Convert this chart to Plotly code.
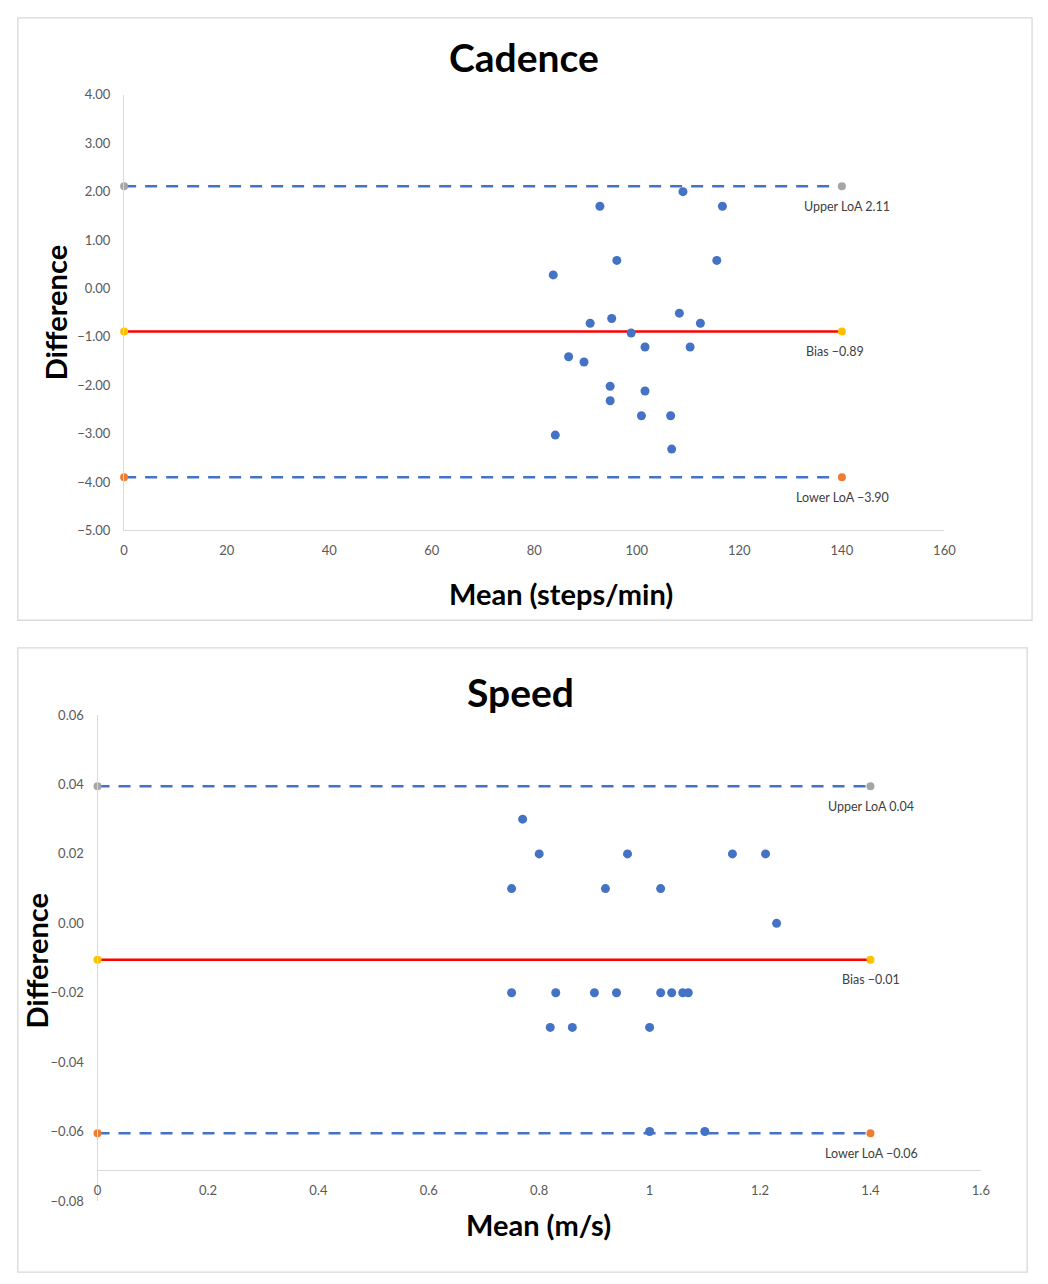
import plotly.graph_objects as go

W, H = 1048, 1284

# ---------------- Cadence data ----------------
cad_mean = [92.8, 109.0, 116.7, 96.1, 115.6, 83.7, 108.3, 90.9, 95.1, 112.4, 98.9,
            101.6, 110.4, 86.7, 89.7, 94.8, 101.6, 94.8, 100.9, 106.6, 84.1, 106.8]
cad_diff = [1.70, 2.00, 1.70, 0.58, 0.58, 0.28, -0.51, -0.72, -0.62, -0.72, -0.92,
            -1.21, -1.21, -1.41, -1.52, -2.02, -2.12, -2.32, -2.63, -2.63, -3.03, -3.32]
cad_bias, cad_upper, cad_lower = -0.89, 2.11, -3.90
cad_line_x = [0, 140]

# ---------------- Speed data ----------------
spd_mean = [0.77, 0.80, 0.96, 1.15, 1.21, 0.75, 0.92, 1.02, 1.23, 0.75, 0.83,
            0.90, 0.94, 1.02, 1.04, 1.06, 1.07, 0.82, 0.86, 1.00, 1.00, 1.10]
spd_diff = [0.03, 0.02, 0.02, 0.02, 0.02, 0.01, 0.01, 0.01, 0.00, -0.02, -0.02,
            -0.02, -0.02, -0.02, -0.02, -0.02, -0.02, -0.03, -0.03, -0.03, -0.06, -0.06]
spd_bias, spd_upper, spd_lower = -0.0105, 0.0395, -0.0605
spd_line_x = [0, 1.4]

cad_yticks = [4, 3, 2, 1, 0, -1, -2, -3, -4, -5]
spd_yticks = [0.06, 0.04, 0.02, 0.00, -0.02, -0.04, -0.06, -0.08]

BLUE = "#4472C4"
RED = "#FF0000"
GRAY_M = "#A5A5A5"
YEL = "#FFC000"
ORA = "#ED7D31"
AXC = "#D9D9D9"
TICKC = "#595959"
FONT = "Lato"


def px(x):
    return x / W


def py(y):
    return 1 - y / H


fig = go.Figure()


def add_panel(xa, ya, xs, ys, bias, up, lo, lx):
    for val in [up, lo]:
        fig.add_trace(go.Scatter(x=lx, y=[val, val], mode="lines",
                                 line=dict(color=BLUE, width=2.5, dash="12px,9px"),
                                 xaxis=xa, yaxis=ya, showlegend=False, hoverinfo="skip"))
    fig.add_trace(go.Scatter(x=lx, y=[bias, bias], mode="lines",
                             line=dict(color=RED, width=2.5),
                             xaxis=xa, yaxis=ya, showlegend=False, hoverinfo="skip"))
    for val, col in [(up, GRAY_M), (bias, YEL), (lo, ORA)]:
        fig.add_trace(go.Scatter(x=lx, y=[val, val], mode="markers",
                                 marker=dict(color=col, size=8),
                                 xaxis=xa, yaxis=ya, showlegend=False, cliponaxis=False))
    fig.add_trace(go.Scatter(x=xs, y=ys, mode="markers",
                             marker=dict(color=BLUE, size=9),
                             xaxis=xa, yaxis=ya, showlegend=False))


add_panel("x", "y", cad_mean, cad_diff, cad_bias, cad_upper, cad_lower, cad_line_x)
add_panel("x2", "y2", spd_mean, spd_diff, spd_bias, spd_upper, spd_lower, spd_line_x)

tickfont = dict(family=FONT, size=13, color=TICKC)
common_ax = dict(showgrid=False, zeroline=False, showline=True, linecolor=AXC,
                 linewidth=1.3, tickfont=tickfont, ticks="outside",
                 tickcolor="rgba(0,0,0,0)", fixedrange=True)

fig.update_layout(
    autosize=True,
    margin=dict(l=0, r=0, t=0, b=0),
    paper_bgcolor="white", plot_bgcolor="white",
    font=dict(family=FONT),
    xaxis=dict(domain=[px(122), px(955)], range=[0, 160], tickvals=list(range(0, 161, 20)),
               anchor="y", ticklen=8, **common_ax),
    yaxis=dict(domain=[py(529), py(88)], range=[-5, 4], tickvals=cad_yticks,
               tickformat=".2f", anchor="x", ticklen=10, **common_ax),
    xaxis2=dict(domain=[px(95), px(992)], range=[0, 1.6],
                tickvals=[0, 0.2, 0.4, 0.6, 0.8, 1.0, 1.2, 1.4, 1.6],
                ticktext=["0", "0.2", "0.4", "0.6", "0.8", "1", "1.2", "1.4", "1.6"],
                anchor="free", position=py(1177), ticklen=8, **common_ax),
    yaxis2=dict(domain=[py(1208), py(716)], range=[-0.08, 0.06], tickvals=spd_yticks,
                tickformat=".2f", anchor="x2", ticklen=10, **common_ax),
)

# panel borders
for (x0, y0, x1, y1) in [(14, 10, 1044, 620), (14, 648, 1039, 1280)]:
    fig.add_shape(type="rect", xref="paper", yref="paper",
                  x0=px(x0), x1=px(x1), y0=py(y1), y1=py(y0),
                  line=dict(color="#D9D9D9", width=1.3), fillcolor="rgba(0,0,0,0)",
                  layer="below")


def ann(text, x, y, size, bold=True, angle=0, color="black"):
    fig.add_annotation(text=f"<b>{text}</b>" if bold else text, x=px(x), y=py(y),
                       xref="paper", yref="paper", showarrow=False, textangle=angle,
                       font=dict(family=FONT, size=size, color=color),
                       xanchor="center", yanchor="middle")


ann("Cadence", 528, 50, 39)
ann("Mean (steps/min)", 566, 593, 29)
ann("Difference", 52, 308, 29, angle=-90)
ann("Speed", 524, 693, 39)
ann("Mean (m/s)", 543, 1232, 29)
ann("Difference", 34, 964, 29, angle=-90)

labc = "#404040"
for xa, ya, xv, yv, txt, dx in [
    ("x", "y", 140, cad_upper, "Upper LoA 2.11", 5),
    ("x", "y", 140, cad_bias, "Bias \u22120.89", -7),
    ("x", "y", 140, cad_lower, "Lower LoA \u22123.90", 1),
    ("x2", "y2", 1.4, spd_upper, "Upper LoA 0.04", 1),
    ("x2", "y2", 1.4, spd_bias, "Bias \u22120.01", 1),
    ("x2", "y2", 1.4, spd_lower, "Lower LoA \u22120.06", 1),
]:
    fig.add_annotation(text=txt, x=xv, y=yv, xref=xa, yref=ya, showarrow=False,
                       xshift=dx, yshift=-20, xanchor="center", yanchor="middle",
                       font=dict(family=FONT, size=12.5, color=labc))

post = ("document.documentElement.style.margin='0';"
        "document.body.style.margin='0';"
        "document.body.style.overflow='hidden';"
        "document.documentElement.style.overflow='hidden';"
        "var gd=document.getElementById('{plot_id}');"
        "Plotly.Plots.resize(gd);")

fig.write_html("out.html", config={"displayModeBar": False, "responsive": True},
               default_width="100vw", default_height="100vh", post_script=post)
